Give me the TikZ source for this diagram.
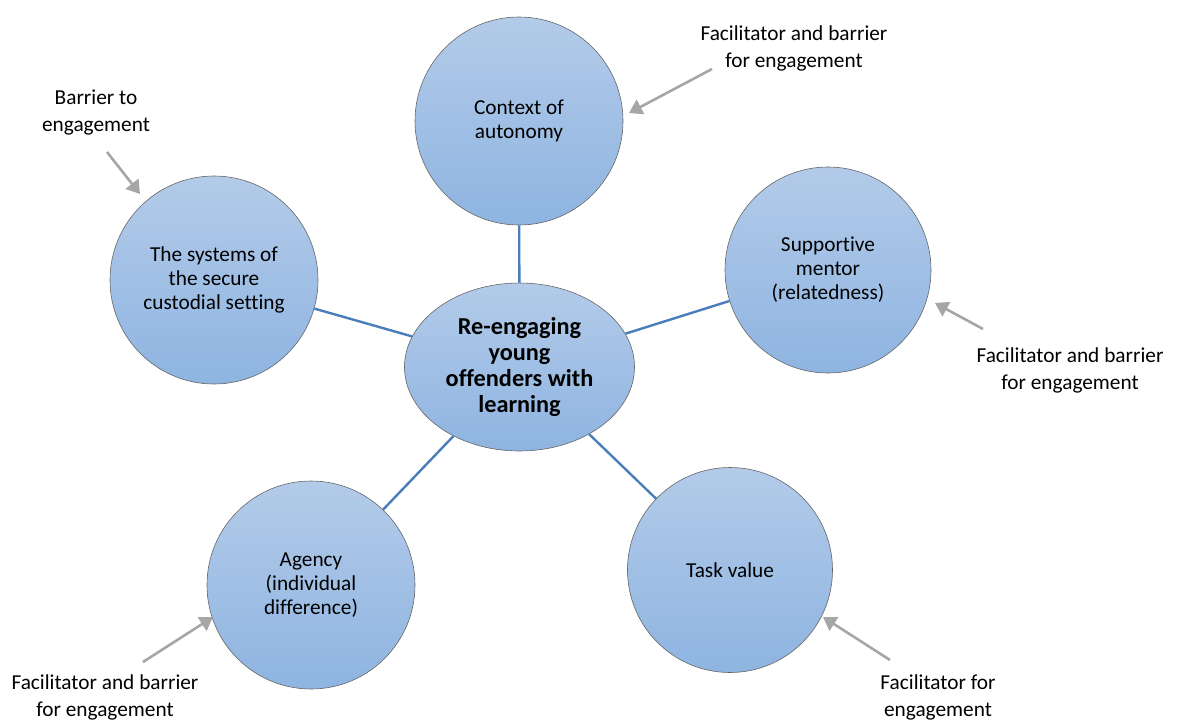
\documentclass[tikz,border=0pt]{standalone}
\usepackage{fontspec}
\setmainfont{Carlito}[Ligatures={NoCommon}]
\usetikzlibrary{arrows.meta,shapes.geometric}
\begin{document}
\begin{tikzpicture}[x=1pt,y=-1pt,
  bubble/.style={circle,draw=black!60,line width=0.6pt,top color=bubtop,bottom color=bubbot,
     minimum size=#1,inner sep=0pt,align=center,font=\fontsize{21.3}{24}\selectfont},
  hub/.style={ellipse,draw=black!60,line width=0.6pt,top color=bubtop,bottom color=bubbot,
     minimum width=230,minimum height=168,inner sep=0pt,align=center,font=\fontsize{24.3}{26}\selectfont\bfseries},
  link/.style={draw=linkblue,line width=2.4pt},
  lbl/.style={align=center,font=\fontsize{21.3}{27}\selectfont},
  pointer/.style={draw=arrgray,line width=2.6pt,-{Triangle[length=13pt,width=16pt]}}]
\definecolor{bubtop}{HTML}{B3CBE9}
\definecolor{bubbot}{HTML}{8EB4E1}
\definecolor{linkblue}{HTML}{4A7EBB}
\definecolor{arrgray}{HTML}{A6A6A6}
\useasboundingbox (0,0) rectangle (1180,720);
\node[hub] (hub) at (519.5,367) {Re-engaging\\young\\offenders with\\learning};
\node[bubble=208] (ctx) at (519,121) {Context of\\autonomy};
\node[bubble=206] (men) at (828,270) {Supportive\\mentor\\(relatedness)};
\node[bubble=208] (sys) at (214,280) {The systems of\\the secure\\custodial setting};
\node[bubble=208] (age) at (311,585) {Agency\\(individual\\difference)};
\node[bubble=205] (task) at (730,570) {Task value};
\draw[link] (ctx) -- (hub);
\draw[link] (sys) -- (hub);
\draw[link] (men) -- (hub);
\draw[link] (age) -- (hub);
\draw[link] (task) -- (hub);
\node[lbl] (l1) at (794,48) {Facilitator and barrier\\for engagement};
\node[lbl] (l2) at (96,113) {Barrier to\\engagement};
\node[lbl] (l3) at (1070,370) {Facilitator and barrier\\for engagement};
\node[lbl] (l4) at (105,697) {Facilitator and barrier\\for engagement};
\node[lbl] (l5) at (938,697) {Facilitator for\\engagement};
\coordinate (t1) at (712,69); \coordinate (h1) at (629,113);
\coordinate (t2) at (107,152); \coordinate (h2) at (140,194);
\coordinate (t3) at (983,329); \coordinate (h3) at (935,303);
\coordinate (t4) at (143,662); \coordinate (h4) at (213,617);
\coordinate (t5) at (890,660); \coordinate (h5) at (823,617);
\draw[pointer] (t1) -- (h1);
\draw[pointer] (t2) -- (h2);
\draw[pointer] (t3) -- (h3);
\draw[pointer] (t4) -- (h4);
\draw[pointer] (t5) -- (h5);
\end{tikzpicture}
\end{document}
